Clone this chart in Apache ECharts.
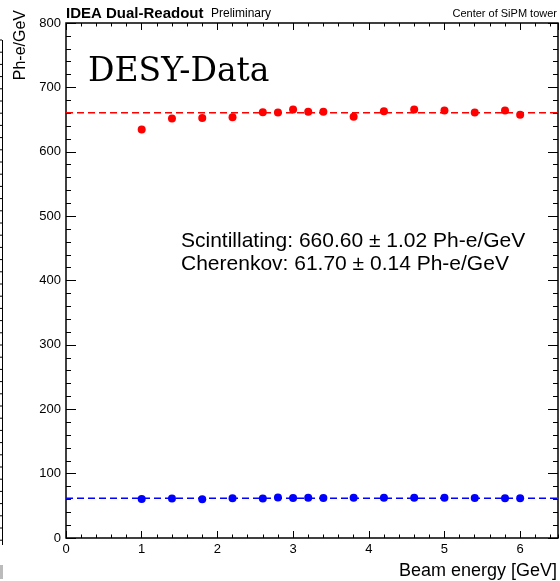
<!DOCTYPE html>
<html>
<head>
<meta charset="utf-8">
<script src="https://cdn.jsdelivr.net/npm/echarts@6/dist/echarts.min.js"></script>
<style>
  html, body { margin: 0; padding: 0; background: #fff; }
  #main { width: 560px; height: 581px; }
</style>
</head>
<body>
<div id="main"></div>
<script>
// beam energies [GeV]
var energies = [1.0, 1.4, 1.8, 2.2, 2.6, 2.8, 3.0, 3.2, 3.4, 3.8, 4.2, 4.6, 5.0, 5.4, 5.8, 6.0];
// Ph-e/GeV
var scintValues = [634.5, 651.5, 652.5, 653.5, 661.5, 661.0, 665.5, 662.0, 662.0, 654.5, 663.0, 665.5, 664.0, 661.0, 664.0, 657.5];
var cherValues = [60.5, 61.5, 60.3, 61.8, 61.5, 62.8, 62.0, 62.5, 62.3, 62.4, 62.5, 62.6, 62.5, 62.3, 61.8, 61.9];
// fit results
var scintFit = 660.60, scintErr = 1.02;
var cherFit = 61.70, cherErr = 0.14;
var xRange = [0, 6.5];
var yRange = [0, 800];

var font = 'Liberation Sans, Arial, sans-serif';
var myChart = echarts.init(document.getElementById('main'));

function pts(xs, ys) {
    return xs.map(function(x, i) { return [x, ys[i]]; });
}

// x axis helper: major / minor tick axes (bottom + top mirror)
function xAx(pos, interval, len, labels) {
    return {
        type: 'value', position: pos, min: xRange[0], max: xRange[1], interval: interval,
        axisLine: { show: false, onZero: false },
        axisTick: { show: true, inside: true, length: len, lineStyle: { color: '#000', width: 1 } },
        axisLabel: labels ? {
            show: true, color: '#000', fontFamily: font, fontSize: 13, margin: 5,
            showMaxLabel: false,
            formatter: function(v) { return v % 1 === 0 ? String(v) : ''; }
        } : { show: false },
        splitLine: { show: false }
    };
}
function yAx(pos, labels) {
    return {
        type: 'value', position: pos, min: yRange[0], max: yRange[1], interval: 100,
        axisLine: { show: false, onZero: false },
        axisTick: { show: true, inside: true, length: 10, lineStyle: { color: '#000', width: 1 } },
        minorTick: { show: true, splitNumber: 5, length: 5, lineStyle: { color: '#000', width: 1 } },
        axisLabel: labels ? { show: true, color: '#000', fontFamily: font, fontSize: 13, margin: 5 } : { show: false },
        splitLine: { show: false }
    };
}

// leftover frame of the neighbour panel on the far left
var edgeTicks = [];
for (var ty = 40; ty <= 545; ty += 12.2) {
    edgeTicks.push({ type: 'line', shape: { x1: 0, y1: ty, x2: 2, y2: ty }, style: { stroke: '#000', lineWidth: 1 } });
}

var option = {
    animation: false,
    grid: { left: 66, right: 2, top: 23, bottom: 43, show: true, borderColor: '#000', borderWidth: 1.5, backgroundColor: 'transparent' },
    xAxis: [
        xAx('bottom', 1, 7, true),
        xAx('bottom', 0.2, 3.5, false),
        xAx('top', 1, 7, false),
        xAx('top', 0.2, 3.5, false)
    ],
    yAxis: [yAx('left', true), yAx('right', false)],
    series: [
        {
            name: 'Scintillating fit', type: 'line', symbol: 'none', silent: true,
            data: pts(xRange, [scintFit, scintFit]),
            lineStyle: { color: '#ff0000', width: 1.5, type: [7, 4] }
        },
        {
            name: 'Cherenkov fit', type: 'line', symbol: 'none', silent: true,
            data: pts(xRange, [cherFit, cherFit]),
            lineStyle: { color: '#0000ff', width: 1.5, type: [7, 4] }
        },
        {
            name: 'Scintillating', type: 'scatter', symbol: 'circle', symbolSize: 8,
            data: pts(energies, scintValues),
            itemStyle: { color: '#ff0000', opacity: 1 }
        },
        {
            name: 'Cherenkov', type: 'scatter', symbol: 'circle', symbolSize: 8,
            data: pts(energies, cherValues),
            itemStyle: { color: '#0000ff', opacity: 1 }
        }
    ],
    graphic: [
        { type: 'text', left: 66, top: 6, style: { text: 'IDEA Dual-Readout', font: 'bold 15px ' + font, fill: '#000' } },
        { type: 'text', left: 211, top: 8, style: { text: 'Preliminary', font: '12px ' + font, fill: '#000' } },
        { type: 'text', right: 3, top: 8, style: { text: 'Center of SiPM tower', font: '11px ' + font, fill: '#000' } },
        { type: 'text', x: 29, y: 10, rotation: Math.PI / 2,
          style: { text: 'Ph-e/GeV', font: '16px ' + font, fill: '#000', textAlign: 'right', textVerticalAlign: 'bottom' } },
        { type: 'text', right: 3, top: 562, style: { text: 'Beam energy [GeV]', font: '18px ' + font, fill: '#000' } },
        { type: 'text', left: 88, top: 56, style: { text: 'DESY-Data', font: '33px "DejaVu Serif", serif', fill: '#000' } },
        { type: 'text', left: 181, top: 231,
          style: { text: 'Scintillating: ' + scintFit.toFixed(2) + ' \u00b1 ' + scintErr.toFixed(2) + ' Ph-e/GeV', font: '21px ' + font, fill: '#000' } },
        { type: 'text', left: 181, top: 254,
          style: { text: 'Cherenkov: ' + cherFit.toFixed(2) + ' \u00b1 ' + cherErr.toFixed(2) + ' Ph-e/GeV', font: '21px ' + font, fill: '#000' } },
        { type: 'line', shape: { x1: 2.5, y1: 40, x2: 2.5, y2: 545 }, style: { stroke: '#000', lineWidth: 1 } },
        { type: 'group', children: edgeTicks },
        { type: 'rect', shape: { x: 0, y: 565, width: 3, height: 14 }, style: { fill: '#bbb' } }
    ]
};

myChart.setOption(option);
</script>
</body>
</html>
